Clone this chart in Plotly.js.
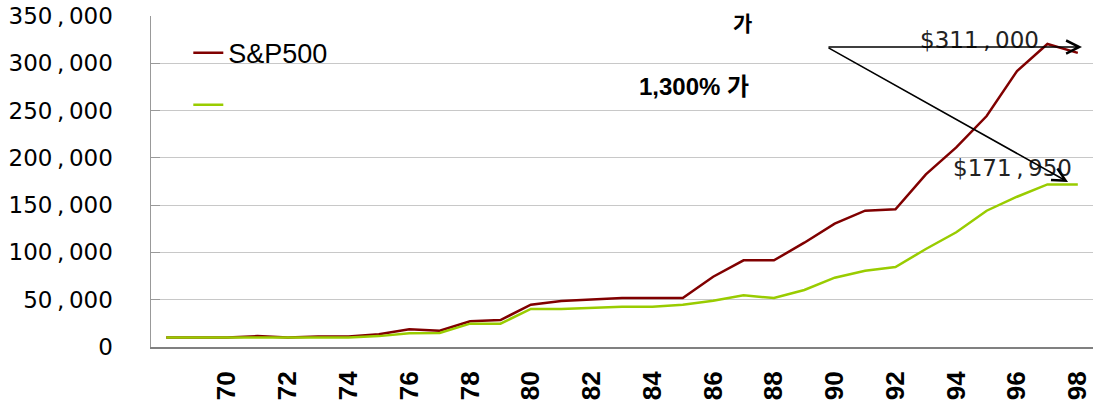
<!DOCTYPE html>
<html>
<head>
<meta charset="utf-8">
<script src="https://cdn.plot.ly/plotly-3.0.1.min.js"></script>
<style>html,body{margin:0;padding:0;background:#fff;}#chart{width:1093px;height:404px;}</style>
</head>
<body>
<div id="chart"></div>
<script>
const years = ['68','69','70','71','72','73','74','75','76','77','78','79','80','81','82','83','84','85','86','87','88','89','90','91','92','93','94','95','96','97','98'];
const sp500 = [10000,10000,10000,11500,10000,11000,11000,13400,18700,17200,27200,28500,44700,48600,50400,51800,51800,51800,74300,91600,91600,110300,130400,144100,145600,182500,211000,244200,291800,320400,311000];
const second = [10000,10000,10000,10000,10000,10000,10000,11500,14500,14800,24700,24700,40200,40200,41200,42600,42600,44700,49000,54600,51800,60300,73300,80700,84600,103600,121300,144100,158900,171950,171950];
const xTickVals = ['70','72','74','76','78','80','82','84','86','88','90','92','94','96','98'];
const yTickVals = [0,50000,100000,150000,200000,250000,300000,350000];
const yTickText = ['0','50\u2009,\u2009000','100\u2009,\u2009000','150\u2009,\u2009000','200\u2009,\u2009000','250\u2009,\u2009000','300\u2009,\u2009000','350\u2009,\u2009000'];

const traces = [
  {x: years, y: sp500, type: 'scatter', mode: 'lines', name: 'S&P500', legendgroup: 'a',
   line: {color: '#800000', width: 2.5}},
  {x: years, y: second, type: 'scatter', mode: 'lines', name: ' ', legendgroup: 'b',
   line: {color: '#99CC00', width: 2.5}}
];

const layout = {
  width: 1093, height: 404, autosize: false,
  margin: {l: 151, r: 0, t: 16, b: 57, pad: 0},
  paper_bgcolor: '#fff', plot_bgcolor: '#fff',
  showlegend: true,
  legend: {x: 0.0396, y: 0.962, xanchor: 'left', yanchor: 'top', bgcolor: 'rgba(0,0,0,0)',
           font: {family: 'Liberation Sans, Arial, sans-serif', size: 27, color: '#000'},
           tracegroupgap: 14, traceorder: 'grouped'},
  xaxis: {type: 'category', range: [-0.5, 30.5], tickmode: 'array', tickvals: xTickVals,
          tickangle: -90, tickfont: {family: 'Liberation Sans, Arial, sans-serif', size: 26, color: '#000', weight: 'bold'},
          showgrid: false, showline: true, linecolor: '#808080', linewidth: 2, ticks: '', zeroline: false,
          ticklabelstandoff: 12},
  yaxis: {range: [0, 350000], tickmode: 'array', tickvals: yTickVals, ticktext: yTickText,
          tickfont: {family: 'DejaVu Sans, sans-serif', size: 23, color: '#000'},
          showgrid: true, gridcolor: '#c8c8c8', gridwidth: 1, showline: true, linecolor: '#999', linewidth: 1.5,
          ticks: 'inside', ticklen: 9, tickcolor: '#999', zeroline: false, ticklabelstandoff: 32},
  shapes: [
    {type: 'rect', xref: 'paper', yref: 'paper', x0: 0.002, x1: 0.4289, y0: 0.6405, y1: 0.9879,
     fillcolor: '#fff', line: {width: 0}, layer: 'between'}
  ],
  annotations: [
    {xref: 'paper', yref: 'paper', x: 0.6274, y: 0.9819, text: '<b>가</b>', showarrow: false,
     font: {family: 'Noto Sans CJK KR, sans-serif', size: 21, color: '#000'}, xanchor: 'center', yanchor: 'middle'},
    {xref: 'paper', yref: 'paper', x: 0.5764, y: 0.7885, text: '<b>1,300% 가</b>', showarrow: false,
     font: {family: 'Liberation Sans, Noto Sans CJK KR, sans-serif', size: 24, color: '#000'}, xanchor: 'center', yanchor: 'middle'},
    {xref: 'paper', yref: 'paper', x: 0.879, y: 0.9275, text: '$311\u2009,\u2009000', showarrow: false,
     font: {family: 'DejaVu Sans, sans-serif', size: 23, color: '#222'}, xanchor: 'center', yanchor: 'middle'},
    {xref: 'paper', yref: 'paper', x: 0.915, y: 0.5408, text: '$171\u2009,\u2009950', showarrow: false,
     font: {family: 'DejaVu Sans, sans-serif', size: 23, color: '#222'}, xanchor: 'center', yanchor: 'middle'},
    {xref: 'paper', yref: 'paper', x: 0.9883, y: 0.9063, ax: -255, ay: 0, text: '', showarrow: true,
     arrowhead: 5, arrowsize: 1.6, arrowwidth: 1.6, arrowcolor: '#000', standoff: 0},
    {xref: 'paper', yref: 'paper', x: 0.9735, y: 0.4985, ax: -241, ay: -135, text: '', showarrow: true,
     arrowhead: 5, arrowsize: 1.6, arrowwidth: 1.6, arrowcolor: '#000', standoff: 0}
  ]
};

Plotly.newPlot('chart', traces, layout, {staticPlot: true, displayModeBar: false});
</script>
</body>
</html>
